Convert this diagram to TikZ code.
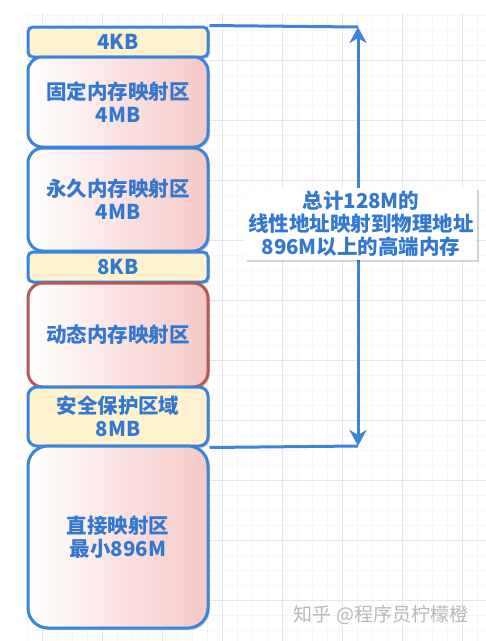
\documentclass[tikz,border=0pt]{standalone}
\usepackage{fontspec}
\newfontfamily\cjk{Noto Sans CJK SC}
\usetikzlibrary{arrows.meta,shadows}
\definecolor{lineblue}{RGB}{58,132,220}
\definecolor{textblue}{RGB}{50,120,208}
\definecolor{pinkfill}{RGB}{245,200,198}
\definecolor{yellowfill}{RGB}{255,242,206}
\definecolor{redline}{RGB}{180,90,84}
\definecolor{gridminor}{RGB}{246,245,249}
\definecolor{gridmajor}{RGB}{232,230,237}
\tikzset{
  membox/.style={draw=lineblue,line width=3pt,minimum width=180pt,inner sep=0pt,
    align=center,text=textblue,font=\cjk\bfseries\fontsize{20.5}{23}\selectfont,
    drop shadow={shadow xshift=2pt,shadow yshift=-2pt,opacity=0.16,fill=black}},
  yellowbox/.style={membox,fill=yellowfill},
  pinkbox/.style={membox,left color=white,right color=pinkfill},
  bracket/.style={draw=lineblue,line width=3pt},
  blockhead/.tip={Stealth[length=16pt,width=17pt,inset=5pt]},
}
\begin{document}
\begin{tikzpicture}[x=1pt,y=-1pt]
  \useasboundingbox (0,0) rectangle (486,641);
  % grid
  \foreach \gx in {27,42,...,486} \draw[gridminor,line width=0.7pt] (\gx,13)--(\gx,641);
  \foreach \gy in {15,30,...,641} \draw[gridminor,line width=0.7pt] (27,\gy)--(486,\gy);
  \foreach \gx in {42,102,...,486} \draw[gridmajor,line width=0.7pt] (\gx,13)--(\gx,641);
  \foreach \gy in {60,120,...,641} \draw[gridmajor,line width=0.7pt] (27,\gy)--(486,\gy);
  % memory layout
  \node[yellowbox,minimum height=30pt,rounded corners=5pt] (kb4) at (118,42) {4KB};
  \node[pinkbox,minimum height=90pt,rounded corners=14pt] (fixmap) at (118,102) {固定内存映射区\\4MB};
  \node[pinkbox,minimum height=103pt,rounded corners=15pt] (permap) at (118,199.5) {永久内存映射区\\4MB};
  \node[yellowbox,minimum height=30pt,rounded corners=5pt] (kb8) at (118,267) {8KB};
  \node[pinkbox,draw=redline,minimum height=104pt,rounded corners=15pt] (dynmap) at (118,335) {动态内存映射区};
  \node[yellowbox,minimum height=59pt,rounded corners=9pt] (guard) at (118,416.5) {安全保护区域\\8MB};
  \node[pinkbox,minimum height=182pt,rounded corners=20pt] (direct) at (118,537) {直接映射区\\最小896M};
  % range of 128M
  \coordinate (topend) at (358,27);
  \coordinate (botend) at (358,446);
  \draw[bracket] (kb4.north east)--(topend);
  \draw[bracket] (guard.south east)--(botend);
  \draw[bracket,blockhead-blockhead] (botend)--(topend);
  \node[fill=white,minimum width=232pt,minimum height=72pt,inner sep=0pt,align=center,
    text=textblue,font=\cjk\bfseries\fontsize{20.5}{23}\selectfont,
    drop shadow={shadow xshift=2pt,shadow yshift=-2pt,opacity=0.16,fill=black}] (total) at (361,224)
    {总计128M的\\线性地址映射到物理地址\\896M以上的高端内存};
  \node[text=black!28,font=\cjk\fontsize{19}{19}\selectfont] (mark) at (381,615) {知乎 @程序员柠檬橙};
\end{tikzpicture}
\end{document}
